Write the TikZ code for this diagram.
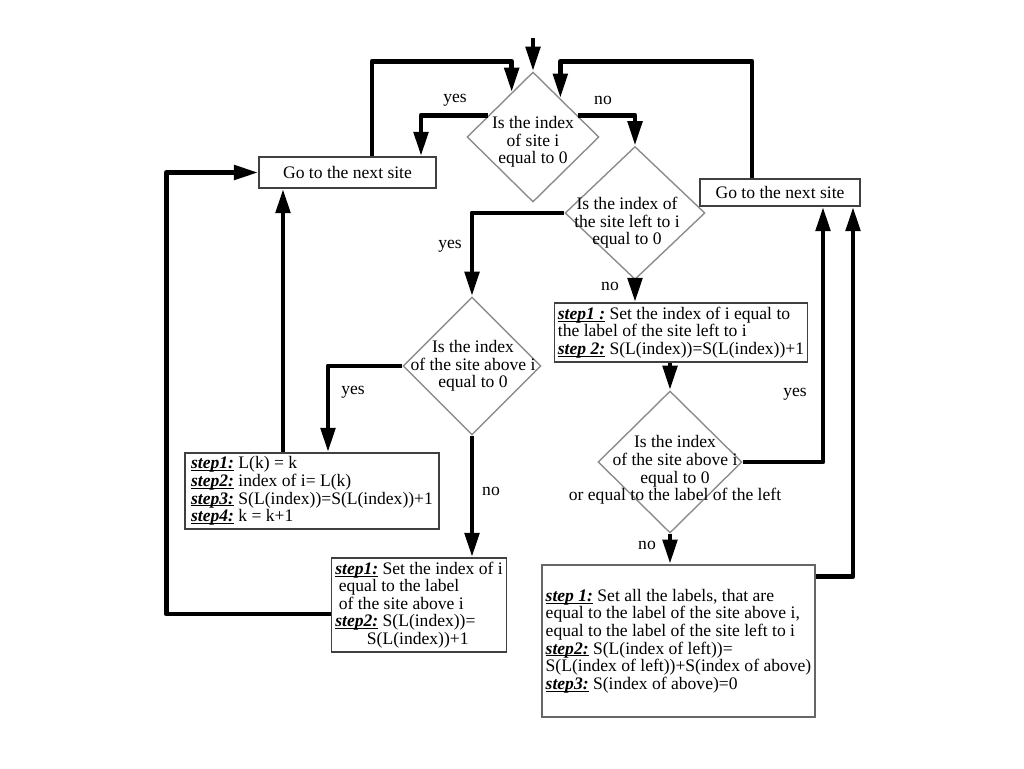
\documentclass[tikz,border=0pt]{standalone}
\usepackage{fontspec}
\setmainfont{Liberation Serif}
\usepackage{tikz}
\usetikzlibrary{arrows.meta,positioning,calc,shapes.geometric}
\newcommand{\steplab}[1]{\setbox0\hbox{\textbf{\textit{#1}}}\rlap{\rule[-1.3pt]{\wd0}{0.5pt}}\box0\relax}

\begin{document}
\begin{tikzpicture}[x=0.02cm,y=-0.02cm,
  dec/.style={diamond,draw=black!45,line width=0.8pt,inner sep=0pt},
  dtxt/.style={align=center,inner sep=0pt},
  stepbox/.style={rectangle,draw=black!75,line width=0.7pt,align=left,inner sep=2pt},
  nextbox/.style={rectangle,draw=black!75,line width=0.7pt},
  lbl/.style={inner sep=0pt},
  flow/.style={->,line width=2.8pt,line join=round},
  >={Triangle[length=14pt,width=8pt]},
  font=\fontsize{10}{10}\selectfont]

  \useasboundingbox (0,0) rectangle (1024,768);

  % decisions
  \node[dec,minimum width=2.64cm,minimum height=2.6cm] (isite) at (533,137) {};
  \node[dtxt] (isitet) at (533,142) {Is the index\\of site i\\equal to 0};
  \node[dec,minimum width=2.8cm,minimum height=2.66cm] (ileft) at (635,213) {};
  \node[dtxt] (ileftt) at (627,223) {Is the index of\\the site left to i\\equal to 0};
  \node[dec,minimum width=2.76cm,minimum height=2.76cm] (iabove) at (472,366) {};
  \node[dtxt] (iabovet) at (473,366) {Is the index\\of the site above i\\equal to 0};
  \node[dec,minimum width=2.88cm,minimum height=2.84cm] (ieq) at (670,462) {};
  \node[dtxt] (ieqt) at (675,470) {Is the index\\of the site above i\\equal to 0\\or equal to the label of the left};

  % next site boxes
  \node[nextbox,minimum width=3.54cm,minimum height=0.62cm] (nextL) at (347.5,172.5) {Go to the next site};
  \node[nextbox,minimum width=3.2cm,minimum height=0.54cm] (nextR) at (780,192.5) {Go to the next site};

  % step boxes
  \node[stepbox,minimum width=5.04cm,minimum height=1.18cm] (setleft) at (681,332.5) {\steplab{step1 :} Set the index of i equal to\\the label of the site left to i\\\steplab{step 2:} S(L(index))=S(L(index))+1};
  \node[stepbox,minimum width=5.08cm,minimum height=1.52cm] (newlab) at (312,491) {\steplab{step1:} L(k) = k\\\steplab{step2:} index of i= L(k)\\\steplab{step3:} S(L(index))=S(L(index))+1\\\steplab{step4:} k = k+1};
  \node[stepbox,minimum width=3.48cm,minimum height=1.88cm] (setabove) at (419,605) {\steplab{step1:} Set the index of i\\\hspace*{2pt}equal to the label\\\hspace*{2pt}of the site above i\\\steplab{step2:} S(L(index))=\\\hspace*{18pt}S(L(index))+1};
  \node[stepbox,draw=black!60,line width=1pt,minimum width=5.42cm,minimum height=3.04cm] (merge) at (678.5,641) {\steplab{step 1:} Set all the labels, that are\\equal to the label of the site above i,\\equal to the label of the site left to i\\\steplab{step2:} S(L(index of left))=\\S(L(index of left))+S(index of above)\\\steplab{step3:} S(index of above)=0};

  % yes / no labels
  \node[lbl] (yes1) at (455,100) {yes};
  \node[lbl] (no1) at (603,100) {no};
  \node[lbl] (yes2) at (450,246) {yes};
  \node[lbl] (no2) at (610,286) {no};
  \node[lbl] (yes3) at (353,392) {yes};
  \node[lbl] (no3) at (491,491) {no};
  \node[lbl] (yes4) at (795,394) {yes};
  \node[lbl] (no4) at (647,545) {no};

  % connectors
  \coordinate (start) at (533,38);
  \draw[flow] (start) -- (isite.north);
  \draw[flow] ($(isite.west)!0.33!(isite.north)$) -| ($(nextL.north)+(73.5,0)$);
  \draw[flow] ($(isite.east)!0.33!(isite.north)$) -| (ileft.north);
  \draw[flow] ($(nextL.north)+(24.5,0)$) -- ++(0,-95) -| ($(isite.west)!0.68!(isite.north)$);
  \draw[flow] ($(nextR.north)+(-28,0)$) -- ++(0,-117) -| ($(isite.east)!0.59!(isite.north)$);
  \draw[flow] (ileft.west) -| (iabove.north);
  \draw[flow] (ileft.south) -- (ileft.south |- setleft.north);
  \draw[flow] (setleft.south -| ieq.north) -- (ieq.north);
  \draw[flow] (ieq.east) -| ($(nextR.south)+(43,0)$);
  \draw[flow] (ieq.south) -- (ieq.south |- merge.north);
  \draw[flow] ($(merge.north east)+(0,12)$) -| ($(nextR.south)+(73,0)$);
  \draw[flow] (iabove.west) -| ($(newlab.north)+(16,0)$);
  \draw[flow] (iabove.south) -- (iabove.south |- setabove.north);
  \coordinate (upL) at ($(newlab.north)+(-29,0)$);
  \draw[flow] (upL) -- (upL |- nextL.south);
  \draw[flow] ($(setabove.west)+(0,9)$) -| ($(nextL.west)+(-92,0)$) -- (nextL.west);

\end{tikzpicture}
\end{document}
